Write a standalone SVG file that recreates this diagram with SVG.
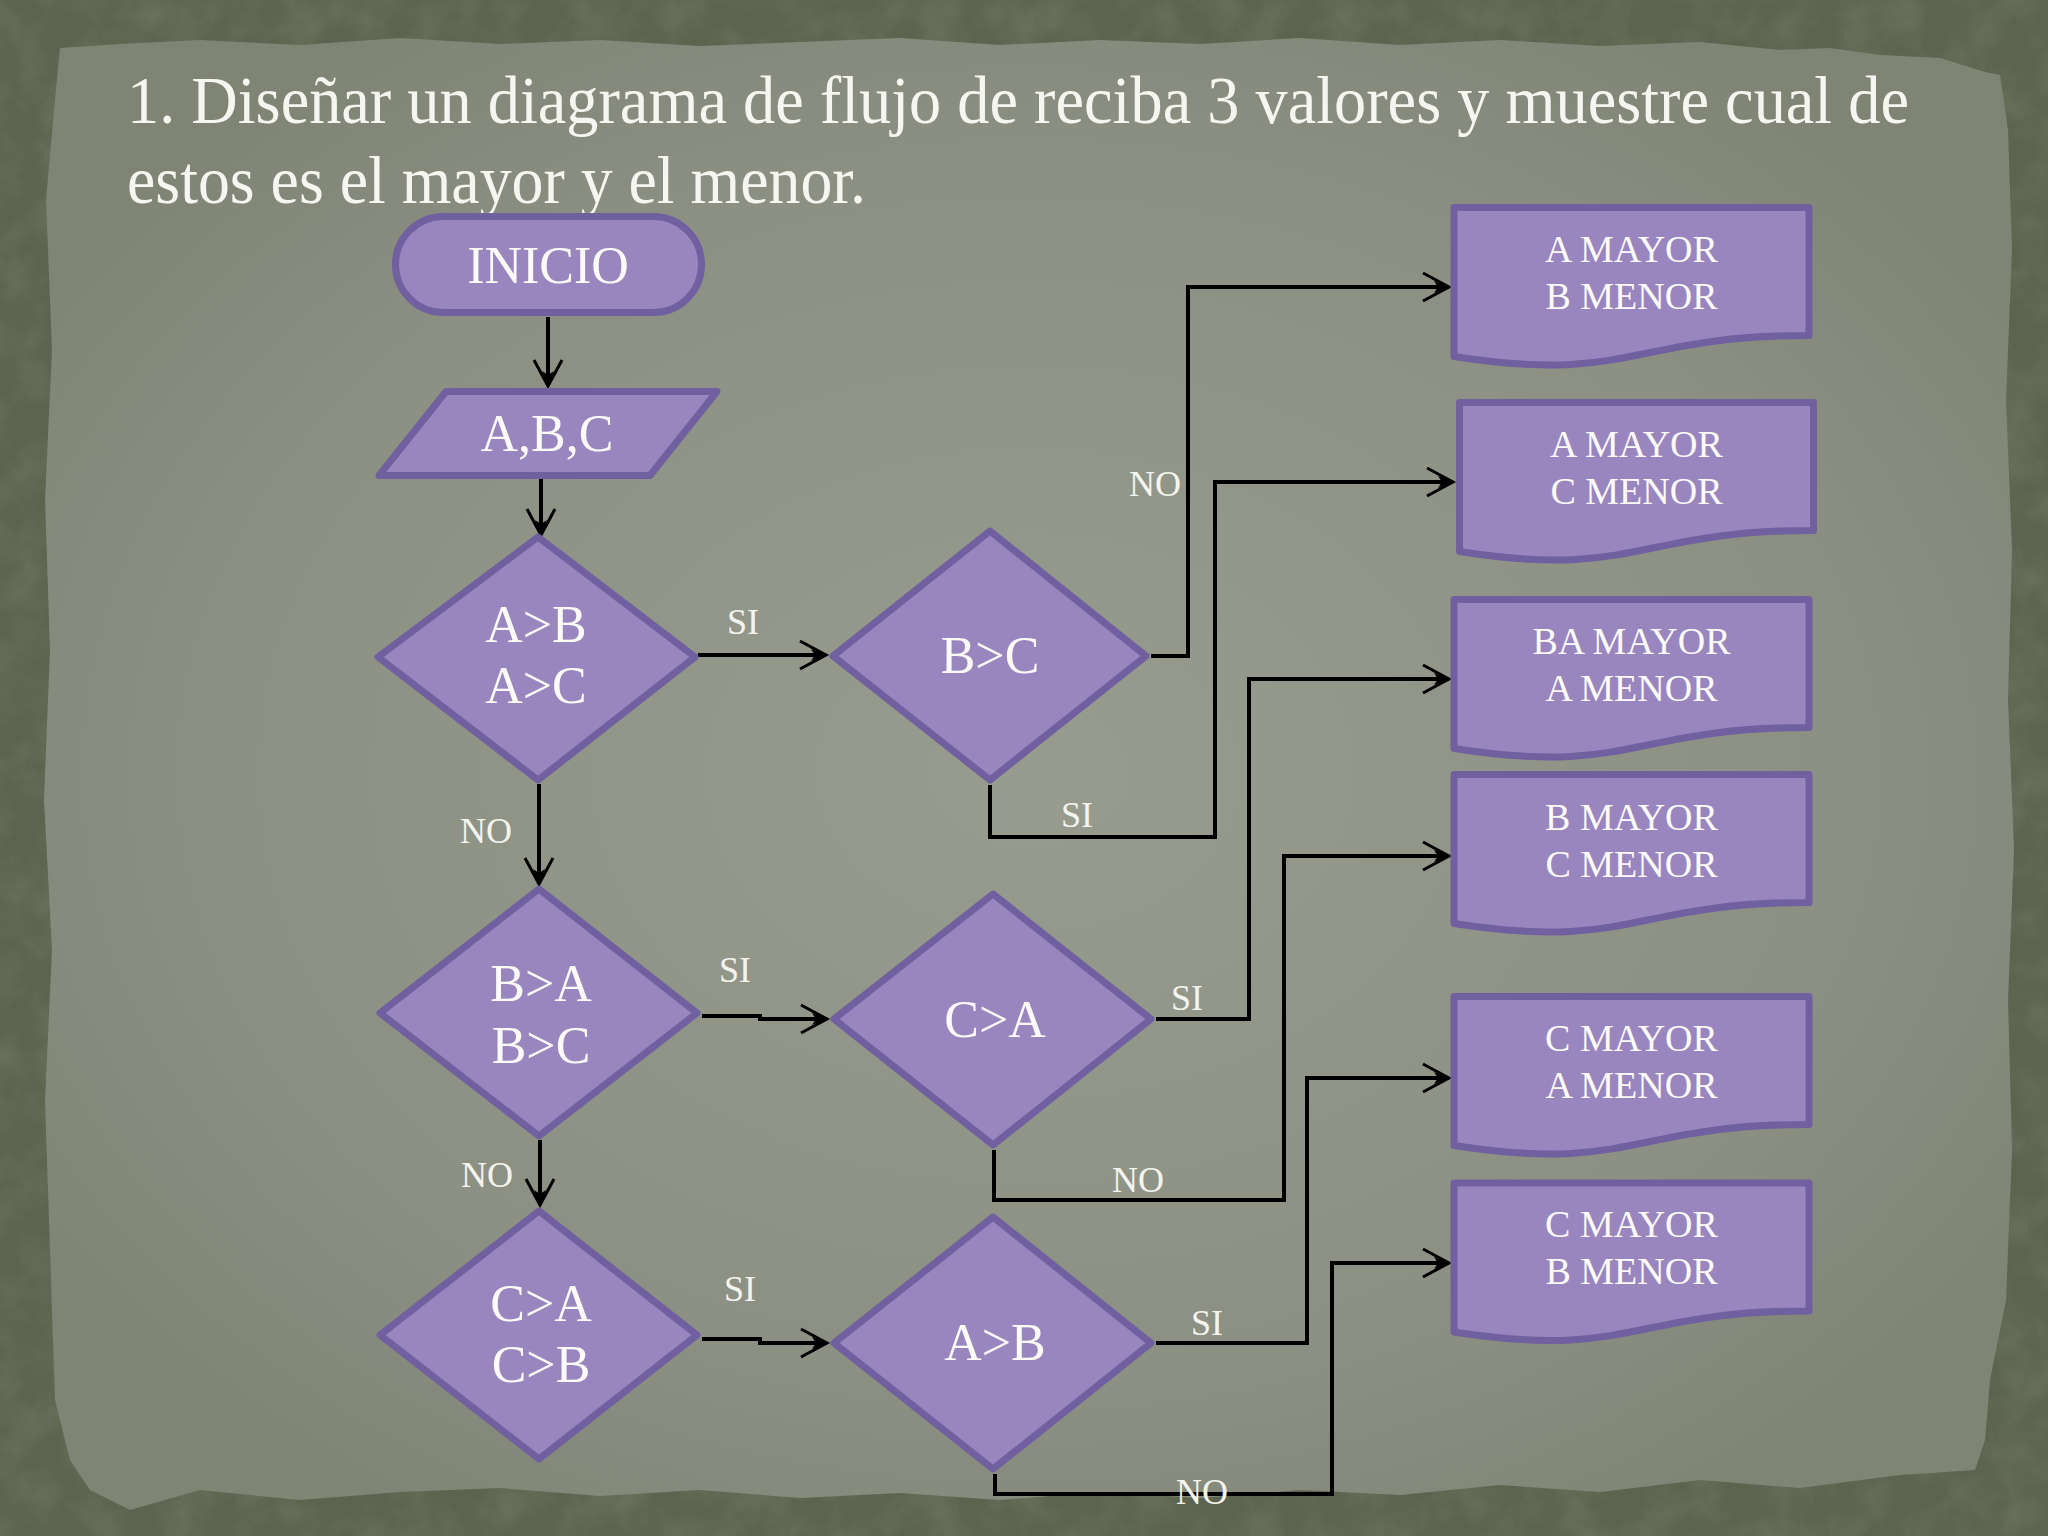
<svg xmlns="http://www.w3.org/2000/svg" width="2048" height="1536" viewBox="0 0 2048 1536">
  <defs>
    <radialGradient id="paperGrad" cx="50%" cy="50%" r="60%">
      <stop offset="0%" stop-color="#989c8f"/>
      <stop offset="70%" stop-color="#8c9083"/>
      <stop offset="100%" stop-color="#7f8475"/>
    </radialGradient>
    <filter id="noise" x="0" y="0" width="100%" height="100%">
      <feTurbulence type="fractalNoise" baseFrequency="0.025" numOctaves="4" seed="7"/>
      <feColorMatrix type="matrix" values="0 0 0 0 0.25  0 0 0 0 0.29  0 0 0 0 0.2  0 0 0 -1.2 0.75"/>
    </filter>
    <marker id="arr" markerUnits="userSpaceOnUse" markerWidth="40" markerHeight="40" viewBox="-30 -20 34 40" refX="0" refY="0" orient="auto">
      <path d="M-26,-14 L0,0 L-26,14" fill="none" stroke="#000" stroke-width="3"/>
      <path d="M1,0 L-15,-6 L-11,0 L-15,6 Z" fill="#000"/>
    </marker>
    <style>
      .shape { fill: #9a86bf; stroke: #7060a0; stroke-width: 7; stroke-linejoin: round; }
      .conn { fill: none; stroke: #000; stroke-width: 4; }
      .ntext { font-family: "Liberation Serif", "DejaVu Serif", serif; font-size: 52px; fill: #fbfaf6; text-anchor: middle; }
      .btext { font-family: "Liberation Serif", "DejaVu Serif", serif; font-size: 38px; fill: #fbfaf6; text-anchor: middle; }
      .lbl { font-family: "Liberation Serif", "DejaVu Serif", serif; font-size: 36px; fill: #f4f4ee; text-anchor: middle; }
      .title { font-family: "Liberation Serif", "DejaVu Serif", serif; font-size: 68px; fill: #f6f6f0; }
    </style>
  </defs>

  <!-- background -->
  <rect x="0" y="0" width="2048" height="1536" fill="#5c6450"/>
  <rect x="0" y="0" width="2048" height="1536" filter="url(#noise)" opacity="0.45"/>
  <path d="M60,48 L120,44 L200,40 L300,45 L400,38 L500,44 L600,40 L700,46 L800,42 L900,38 L1000,45 L1100,40 L1200,44 L1300,38 L1400,45 L1500,40 L1600,46 L1700,42 L1780,50 L1830,48 L1880,55 L1940,58 L1985,72 L2000,75 L2008,130 L2012,250 L2006,400 L2012,550 L2008,700 L2014,850 L2008,1000 L2012,1150 L2006,1300 L1990,1380 L1985,1440 L1975,1470 L1900,1475 L1800,1488 L1700,1480 L1600,1492 L1500,1485 L1400,1495 L1300,1490 L1200,1498 L1100,1492 L1000,1500 L900,1493 L800,1498 L700,1490 L600,1496 L500,1488 L400,1492 L300,1500 L200,1490 L130,1510 L90,1490 L70,1460 L55,1400 L50,1250 L45,1100 L52,950 L44,800 L50,650 L45,500 L52,350 L46,200 L55,100 Z" fill="url(#paperGrad)"/>

  <!-- title -->
  <text class="title" x="127" y="123" textLength="1782" lengthAdjust="spacingAndGlyphs">1. Diseñar un diagrama de flujo de reciba 3 valores y muestre cual de</text>
  <text class="title" x="127" y="203" textLength="739" lengthAdjust="spacingAndGlyphs">estos es el mayor y el menor.</text>

  <!-- connectors -->
  <g id="connectors">
    <path class="conn" d="M548,317 V386" marker-end="url(#arr)"/>
    <path class="conn" d="M541,479 V535" marker-end="url(#arr)"/>
    <path class="conn" d="M698,655 H826" marker-end="url(#arr)"/>
    <path class="conn" d="M539,784 V884" marker-end="url(#arr)"/>
    <path class="conn" d="M702,1016 H760 V1019 H827" marker-end="url(#arr)"/>
    <path class="conn" d="M540,1140 V1205" marker-end="url(#arr)"/>
    <path class="conn" d="M702,1339 H760 V1343 H827" marker-end="url(#arr)"/>
    <path class="conn" d="M1151,656 H1188 V287 H1449" marker-end="url(#arr)"/>
    <path class="conn" d="M990,785 V837 H1215 V482 H1453" marker-end="url(#arr)"/>
    <path class="conn" d="M1156,1019 H1249 V679 H1449" marker-end="url(#arr)"/>
    <path class="conn" d="M994,1150 V1200 H1284 V856 H1449" marker-end="url(#arr)"/>
    <path class="conn" d="M1156,1343 H1307 V1078 H1449" marker-end="url(#arr)"/>
    <path class="conn" d="M995,1474 V1494 H1332 V1263 H1449" marker-end="url(#arr)"/>
  </g>

  <!-- labels -->
  <g id="labels">
    <text class="lbl" x="743" y="634">SI</text>
    <text class="lbl" x="1155" y="496">NO</text>
    <text class="lbl" x="1077" y="827">SI</text>
    <text class="lbl" x="486" y="843">NO</text>
    <text class="lbl" x="735" y="982">SI</text>
    <text class="lbl" x="1187" y="1010">SI</text>
    <text class="lbl" x="487" y="1187">NO</text>
    <text class="lbl" x="1138" y="1192">NO</text>
    <text class="lbl" x="740" y="1301">SI</text>
    <text class="lbl" x="1207" y="1335">SI</text>
    <text class="lbl" x="1202" y="1504">NO</text>
  </g>

  <!-- nodes -->
  <g id="inicio">
    <rect class="shape" x="395.5" y="216.5" width="306" height="96" rx="48" ry="48"/>
    <text class="ntext" x="548" y="283">INICIO</text>
  </g>
  <g id="entrada">
    <polygon class="shape" points="446,391.5 717,391.5 650,475.5 379,475.5"/>
    <text class="ntext" x="547" y="451">A,B,C</text>
  </g>
  <g id="d1">
    <polygon class="shape" points="538,537 695,657 538,780 378,657"/>
    <text class="ntext" x="536" y="642">A&gt;B</text>
    <text class="ntext" x="536" y="703">A&gt;C</text>
  </g>
  <g id="d2">
    <polygon class="shape" points="539,889 697,1013 539,1136 380,1013"/>
    <text class="ntext" x="541" y="1001">B&gt;A</text>
    <text class="ntext" x="541" y="1063">B&gt;C</text>
  </g>
  <g id="d3">
    <polygon class="shape" points="539,1211 697,1335 539,1459 380,1335"/>
    <text class="ntext" x="541" y="1321">C&gt;A</text>
    <text class="ntext" x="541" y="1382">C&gt;B</text>
  </g>
  <g id="d4">
    <polygon class="shape" points="990,531 1146,656 990,780 833,656"/>
    <text class="ntext" x="990" y="673">B&gt;C</text>
  </g>
  <g id="d5">
    <polygon class="shape" points="993,894 1151,1019 993,1145 834,1019"/>
    <text class="ntext" x="995" y="1037">C&gt;A</text>
  </g>
  <g id="d6">
    <polygon class="shape" points="993,1217 1151,1343 993,1469 834,1343"/>
    <text class="ntext" x="995" y="1360">A&gt;B</text>
  </g>

  <g id="box1">
    <path class="shape" d="M1454,207.5 H1809 V335.4 C1631.5,335.4 1631.5,384.2 1454,356.5 Z"/>
    <text class="btext" x="1631.5" y="261.5">A MAYOR</text>
    <text class="btext" x="1631.5" y="308.5">B MENOR</text>
  </g>
  <g id="box2">
    <path class="shape" d="M1459.5,402.5 H1813.5 V530.4 C1636.5,530.4 1636.5,579.2 1459.5,551.5 Z"/>
    <text class="btext" x="1636.5" y="456.5">A MAYOR</text>
    <text class="btext" x="1636.5" y="503.5">C MENOR</text>
  </g>
  <g id="box3">
    <path class="shape" d="M1454,599.5 H1809 V727.4 C1631.5,727.4 1631.5,776.2 1454,748.5 Z"/>
    <text class="btext" x="1631.5" y="653.5">BA MAYOR</text>
    <text class="btext" x="1631.5" y="700.5">A MENOR</text>
  </g>
  <g id="box4">
    <path class="shape" d="M1454,774.5 H1809 V902.4 C1631.5,902.4 1631.5,951.2 1454,923.5 Z"/>
    <text class="btext" x="1631.5" y="829.5">B MAYOR</text>
    <text class="btext" x="1631.5" y="877">C MENOR</text>
  </g>
  <g id="box5">
    <path class="shape" d="M1454,996.5 H1809 V1124.4 C1631.5,1124.4 1631.5,1173.2 1454,1145.5 Z"/>
    <text class="btext" x="1631.5" y="1050.5">C MAYOR</text>
    <text class="btext" x="1631.5" y="1098">A MENOR</text>
  </g>
  <g id="box6">
    <path class="shape" d="M1454,1183 H1809 V1310.9 C1631.5,1310.9 1631.5,1359.7 1454,1332 Z"/>
    <text class="btext" x="1631.5" y="1236.5">C MAYOR</text>
    <text class="btext" x="1631.5" y="1284">B MENOR</text>
  </g>
</svg>
